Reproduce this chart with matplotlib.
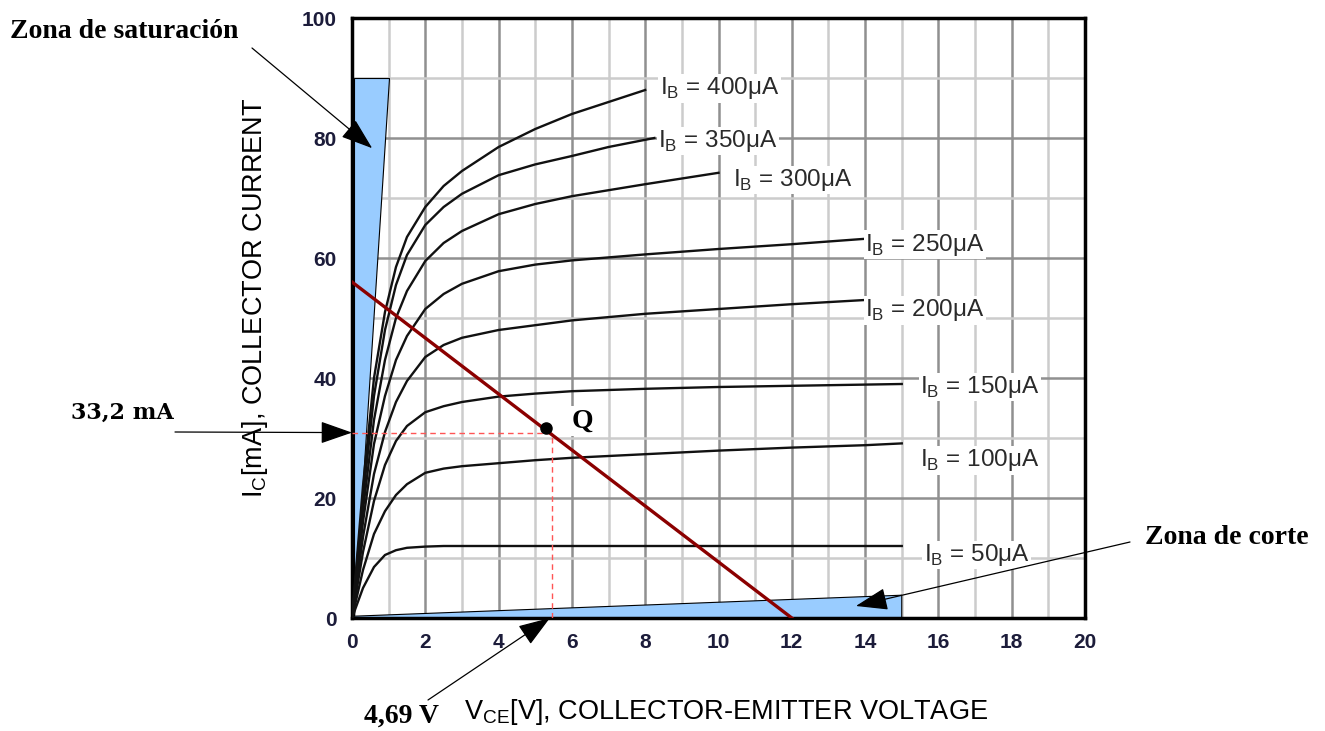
import matplotlib.pyplot as plt
from matplotlib.ticker import MultipleLocator

# output characteristic curves: V_CE [V] -> I_C [mA]
v_long = [0, 0.3, 0.6, 0.9, 1.2, 1.5, 2, 2.5, 3, 4, 5, 6, 8, 10, 12, 14, 15]
v_mid = [0, 0.3, 0.6, 0.9, 1.2, 1.5, 2, 2.5, 3, 4, 5, 6, 8, 10, 12, 14]

ib50 = [0, 5, 8.5, 10.5, 11.3, 11.7, 11.9, 12, 12, 12, 12, 12, 12, 12, 12, 12, 12]
ib100 = [0, 8, 14, 17.8, 20.5, 22.3, 24.2, 24.9, 25.3, 25.8, 26.3, 26.7, 27.3, 27.9, 28.4, 28.8, 29.1]
ib150 = [0, 11, 19.5, 25.5, 29.5, 32, 34.3, 35.3, 36, 36.9, 37.4, 37.8, 38.2, 38.5, 38.7, 38.9, 39.0]
ib200 = [0, 13.5, 24, 31, 36, 39.5, 43.5, 45.5, 46.7, 48, 48.8, 49.6, 50.7, 51.5, 52.3, 53.0]
ib250 = [0, 16, 29, 37, 43, 47, 51.5, 54, 55.7, 57.8, 58.9, 59.6, 60.6, 61.5, 62.3, 63.2]

v300 = [0, 0.3, 0.6, 0.9, 1.2, 1.5, 2, 2.5, 3, 4, 5, 6, 8, 10]
ib300 = [0, 18, 33, 43, 50, 54.5, 59.5, 62.5, 64.5, 67.3, 69, 70.3, 72.3, 74.2]
v350 = [0, 0.3, 0.6, 0.9, 1.2, 1.5, 2, 2.5, 3, 4, 5, 6, 7, 8.25]
ib350 = [0, 20, 37, 48, 55.5, 60.5, 65.5, 68.5, 70.7, 73.8, 75.6, 77, 78.5, 80]
v400 = [0, 0.3, 0.6, 0.9, 1.2, 1.5, 2, 2.5, 3, 4, 5, 6, 7, 8]
ib400 = [0, 22, 40, 51, 58.5, 63.5, 68.5, 72, 74.5, 78.5, 81.5, 84, 86, 88]

curves = [(v_long, ib50), (v_long, ib100), (v_long, ib150), (v_mid, ib200),
          (v_mid, ib250), (v300, ib300), (v350, ib350), (v400, ib400)]

label_text = ['50', '100', '150', '200', '250', '300', '350', '400']
label_x = [15.6, 15.5, 15.5, 14.0, 14.0, 10.4, 8.35, 8.4]
label_y = [10.5, 26.3, 38.5, 51.3, 62.2, 73.0, 79.5, 88.3]

# load line and operating point
load_v = [0, 12]
load_i = [56, 0]
q_v, q_i = 5.3, 31.6
q_lines_v, q_lines_i = 5.45, 30.9

# shaded zones
sat_x = [0.05, 0.05, 1.0]
sat_y = [0, 90, 90]
cut_x = [0.05, 15, 15, 0.05]
cut_y = [0.3, 3.8, 0.05, 0.05]

fig = plt.figure(figsize=(13.25, 7.31), dpi=100)
ax = fig.add_axes([352 / 1325, 113 / 731, 733 / 1325, 600 / 731])
ax.set_xlim(0, 20)
ax.set_ylim(0, 100)

ax.xaxis.set_major_locator(MultipleLocator(2))
ax.xaxis.set_minor_locator(MultipleLocator(1))
ax.yaxis.set_major_locator(MultipleLocator(20))
ax.yaxis.set_minor_locator(MultipleLocator(10))
ax.grid(which='major', color='#909090', lw=1.8, zorder=0)
ax.grid(which='minor', color='#cccccc', lw=1.8, zorder=0)
ax.set_axisbelow(True)
ax.tick_params(which='both', length=0, pad=11, labelsize=15, labelcolor='#1c1c3a')
for lab in ax.get_xticklabels() + ax.get_yticklabels():
    lab.set_fontweight('bold')
    lab.set_family('Liberation Sans')
for s in ax.spines.values():
    s.set_linewidth(2.5)

ax.fill(sat_x, sat_y, facecolor='#99ccff', edgecolor='black', lw=0.8, zorder=2)
ax.fill(cut_x, cut_y, facecolor='#99ccff', edgecolor='black', lw=0.8, zorder=2)

for v, i in curves:
    ax.plot(v, i, color='#111111', lw=1.7, zorder=3, solid_joinstyle='round')

for t, x, y in zip(label_text, label_x, label_y):
    ax.text(x, y, r'I$_\mathregular{B}$ = ' + t + 'μA', fontsize=17.5, family='Liberation Sans',
            color='#2a2a2a', va='center', ha='left',
            bbox=dict(facecolor='white', edgecolor='none', pad=1), zorder=4)

ax.plot(load_v, load_i, color='#8b0000', lw=2.4, zorder=5)
ax.plot([0, q_lines_v], [q_lines_i, q_lines_i], color='#ff5555', lw=1, ls=(0, (4, 3)), zorder=4)
ax.plot([q_lines_v, q_lines_v], [0, q_lines_i], color='#ff5555', lw=1, ls=(0, (4, 3)), zorder=4)
ax.plot(q_v, q_i, 'o', color='black', ms=8, zorder=6)
ax.text(6.0, 32.8, 'Q', fontsize=20, family='Liberation Serif', fontweight='bold',
        va='center', ha='left', bbox=dict(facecolor='white', edgecolor='none', pad=2), zorder=6)

fig.text(726, 731 - 712, r'V$_\mathregular{CE}$[V], COLLECTOR-EMITTER VOLTAGE', fontsize=19.5,
         family='Liberation Sans', ha='center', va='center', transform=None)
fig.text(255, 731 - 298, r'I$_\mathregular{C}$[mA], COLLECTOR CURRENT', fontsize=19.5,
         family='Liberation Sans', ha='center', va='center', rotation=90, transform=None)

serif = dict(family='Liberation Serif', fontweight='bold', color='black')
aprops = dict(arrowstyle='-|>,head_length=1.0,head_width=0.35', color='black', lw=0.9,
              shrinkA=0, shrinkB=0, mutation_scale=20)

fig.text(124, 731 - 32, 'Zona de saturación', fontsize=20, ha='center', va='center',
         transform=None, **serif)
ax.annotate('', xy=(0.55, 78.3), xytext=(252, 731 - 48), textcoords='figure pixels',
            arrowprops=aprops, zorder=7)

fig.text(122, 731 - 413, '33,2 mA', fontsize=16, ha='center', va='center', transform=None,
         family='DejaVu Serif', fontweight='bold', color='black')
ax.annotate('', xy=(0, q_lines_i), xytext=(175, 731 - 432), textcoords='figure pixels',
            arrowprops=aprops, annotation_clip=False, zorder=7)

fig.text(402, 731 - 716, '4,69 V', fontsize=20, ha='center', va='center',
         transform=None, **serif)
ax.annotate('', xy=(5.4, 0), xytext=(428, 731 - 700), textcoords='figure pixels',
            arrowprops=aprops, annotation_clip=False, zorder=7)

fig.text(1227, 731 - 537, 'Zona de corte', fontsize=20, ha='center', va='center',
         transform=None, **serif)
ax.annotate('', xy=(13.75, 2.0), xytext=(1130, 731 - 542), textcoords='figure pixels',
            arrowprops=aprops, annotation_clip=False, zorder=7)

fig.savefig('out.png', dpi=100)
